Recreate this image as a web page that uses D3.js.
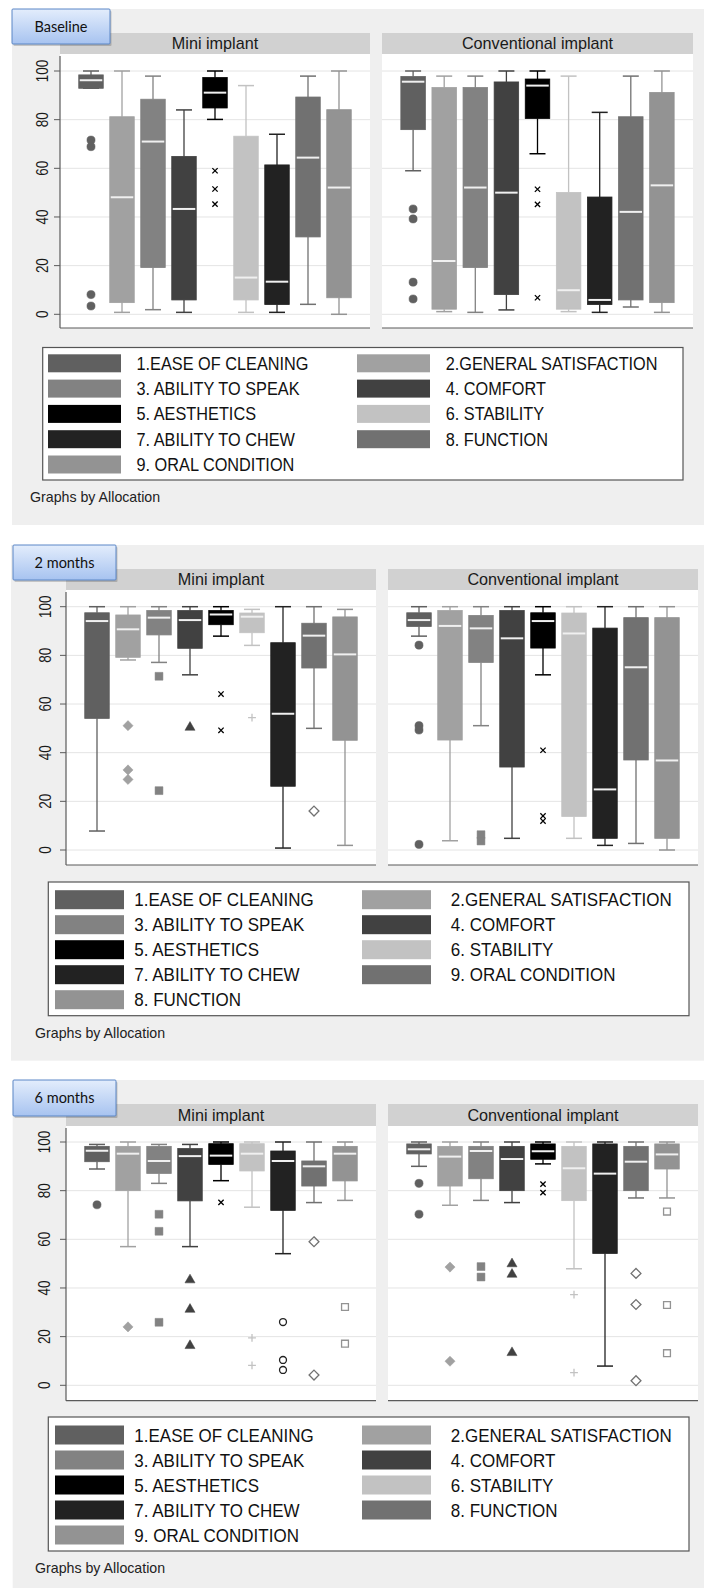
<!DOCTYPE html>
<html><head><meta charset="utf-8">
<script src="https://cdn.jsdelivr.net/npm/d3@7"></script>
<style>body{margin:0;background:#fff} svg{display:block}</style>
</head><body>
<svg id="chart" width="704" height="1588"></svg>
<script>
// ---------------- DATA ----------------
const categories = ["1.EASE OF CLEANING","2.GENERAL SATISFACTION","3. ABILITY TO SPEAK","4. COMFORT",
  "5. AESTHETICS","6. STABILITY","7. ABILITY TO CHEW","8. FUNCTION","9. ORAL CONDITION"];
const groups = ["Mini implant","Conventional implant"];
const timepoints = ["Baseline","2 months","6 months"];
const yTicks = [0,20,40,60,80,100];
const footnote = "Graphs by Allocation";

// box stats per category: [lower whisker, q1, median, q3, upper whisker]
const baselineMini = [[92.9,92.9,96.2,98.4,100],[0.8,4.8,48.1,81.2,100],[1.9,19.2,71,88.4,97.9],[0.8,5.9,43.3,64.9,84],
  [80.1,84.8,91.1,97.3,100],[0.8,5.9,15.1,73.2,94],[0.8,4,13.4,61.4,74],[4.1,31.8,64.4,89.3,97.9],[0,6.8,52.1,84.1,100]];
const baselineMiniOut = [[71.6,68.9,8.1,3.4],[],[],[],[59,51.5,45.3],[],[],[],[]];
const baselineConv = [[59,75.9,95.6,97.7,100],[1.1,2.1,21.9,93.2,97.9],[0.8,19.2,52.1,93.2,97.9],[1.8,8.1,50,95.5,100],
  [66,80.5,94,96.7,100],[1.1,2.1,9.9,50.1,97.9],[0.8,4,5.9,48.2,83],[3,5.9,42.1,81.2,97.9],[0.8,4.8,53,91.2,100]];
const baselineConvOut = [[43.3,39.2,13.2,6.3],[],[],[],[51.4,45.2,6.8],[],[],[],[]];

const twoMonthMini = [[7.8,54.1,94.1,97.5,100],[78.1,79.2,90.7,96.6,100],[77.1,88.4,95.5,98.4,100],[72,82.9,94.5,98.4,100],
  [87.9,92.6,96.8,98.4,100],[84.1,89.3,95.9,97.4,98.9],[0.8,26.2,56,85.2,100],[50,74.8,88.1,93.2,100],[1.9,45.1,80.4,95.8,98.9]];
const twoMonthMiniOut = [[],[51.1,32.9,29],[71.4,24.4],[50.4],[64.1,49.2],[54.4],[],[16],[]];
const twoMonthConv = [[87.9,91.9,94.5,97.5,100],[3.8,45.2,92.1,98.4,100],[51.1,77.1,91.1,96.4,100],[4.8,34.1,87,98.4,100],
  [72,83,94.1,97.5,100],[4.8,13.8,89,97.4,100],[1.9,4.8,24.9,91.2,100],[2.7,37,75.1,95.5,100],[0,4.8,36.8,95.5,100]];
const twoMonthConvOut = [[84.2,51.1,49.3,2.3],[],[6.3,3.7],[],[41,14,11.9],[],[],[],[]];

const sixMonthMini = [[88.9,91.9,96.4,98.2,99],[57,80,95.2,98.2,100],[83,87.1,92.2,98.2,99],[57,75.8,94.2,97.3,99],
  [84.1,90.8,94.4,99.3,100],[73.2,88.1,95.2,99.3,100],[54.1,71.9,92.2,96.3,100],[75.1,81.9,90,92.2,100],[76,84,95.2,98.2,100]];
const sixMonthMiniOut = [[74.2],[24],[70.3,63.3,25.9],[43.3,31.2,16.3],[75.2],[19.5,8.2],[26,10.4,6.3],[59,4.2],[32.2,17.1]];
const sixMonthConv = [[90,95.1,97,99.2,100],[74,81.9,94,98.2,100],[76,84.9,96.3,98.2,100],[75.1,80,93,98.2,100],
  [91,92.9,96.2,99.2,100],[47.9,75.9,89.2,98.2,100],[7.9,54.2,87,99.2,100],[77,80,91.9,98.2,100],[77,88.9,94.9,99.2,100]];
const sixMonthConvOut = [[83,70.3],[48.6,9.9],[48.8,44.5],[49.9,45.6,13.4],[82.7,79.2],[37.3,5.2],[],[46,33.2,1.9],[71.4,33,13.2]];

// legend labels as printed (row-wise, two columns)
const legendBaseline = categories;
const legendTwoMonths = ["1.EASE OF CLEANING","2.GENERAL SATISFACTION","3. ABILITY TO SPEAK","4. COMFORT",
  "5. AESTHETICS","6. STABILITY","7. ABILITY TO CHEW","9. ORAL CONDITION","8. FUNCTION"];
const legendSixMonths = categories;

// ---------------- STYLE / LAYOUT ----------------
const COLORS = ["#606060","#a1a1a1","#828282","#414141","#000000","#c2c2c2","#222222","#717171","#939393"];
const MARKERS = [
  {t:d3.symbolCircle,s:52,fill:true},{t:d3.symbolDiamond2,s:66,fill:true},{t:d3.symbolSquare,s:62,fill:true},
  {t:d3.symbolTriangle,s:44,fill:true},{t:d3.symbolTimes,s:20,fill:false},{t:d3.symbolPlus,s:22,fill:false},
  {t:d3.symbolCircle,s:38,fill:false},{t:d3.symbolDiamond2,s:62,fill:false},{t:d3.symbolSquare2,s:60,fill:false}];

const sets = [
  {stats:[baselineMini,baselineConv], outs:[baselineMiniOut,baselineConvOut], legend:legendBaseline},
  {stats:[twoMonthMini,twoMonthConv], outs:[twoMonthMiniOut,twoMonthConvOut], legend:legendTwoMonths},
  {stats:[sixMonthMini,sixMonthConv], outs:[sixMonthMiniOut,sixMonthConvOut], legend:legendSixMonths}];

const layouts = [
 {top:9,bottom:525,left:12,tag:{x:12,y:9,w:98,h:35},strip:[33,54],plotBottom:328,y100:71,y0:314.3,
  xs:[[60,370],[382,693]],tickLabelX:42,
  legend:{x:42.7,y:347.5,w:640.3,h:132.5,row0:363.3,step:25.3,swx:[48,357],sww:73,swh:18,tx:[136.5,445.7],fs:16.3},
  foot:{x:30,y:497}},
 {top:545,bottom:1060.7,left:11,tag:{x:13,y:545,w:103,h:35},strip:[569,590],plotBottom:865,y100:606.7,y0:850,
  xs:[[66,376],[388,698]],tickLabelX:45,
  legend:{x:48.3,y:882,w:640.7,h:133.7,row0:899.7,step:25,swx:[55,362],sww:69,swh:19,tx:[134.3,450.8],fs:17},
  foot:{x:35,y:1032.7}},
 {top:1080,bottom:1588,left:12.7,tag:{x:13,y:1080,w:103,h:36},strip:[1104,1126],plotBottom:1400.7,y100:1142,y0:1385.3,
  xs:[[66,376],[388,698]],tickLabelX:44.5,
  legend:{x:48.3,y:1417,w:640.7,h:134,row0:1435,step:25,swx:[55,362],sww:69,swh:19,tx:[134.3,450.8],fs:17},
  foot:{x:35,y:1568}}];

const svg = d3.select("#chart");
const defs = svg.append("defs");
const grad = defs.append("linearGradient").attr("id","tagGrad").attr("x1",0).attr("y1",0).attr("x2",0).attr("y2",1);
grad.append("stop").attr("offset","0%").attr("stop-color","#e3edfc");
grad.append("stop").attr("offset","100%").attr("stop-color","#a7c3f0");

const FONT = "'Liberation Sans', Arial, Helvetica, sans-serif";

timepoints.forEach((tp, ti) => {
  const L = layouts[ti], S = sets[ti];
  const G = svg.append("g");
  // graph background
  G.append("rect").attr("x",L.left).attr("y",L.top).attr("width",704-L.left).attr("height",L.bottom-L.top).attr("fill","#efefef");

  const y = d3.scaleLinear().domain([0,100]).range([L.y0, L.y100]);

  groups.forEach((gname, gi) => {
    const [x0,x1] = L.xs[gi];
    const x = d3.scalePoint().domain(d3.range(categories.length)).range([x0,x1]).padding(1);
    const P = G.append("g");
    // strip
    P.append("rect").attr("x",x0).attr("y",L.strip[0]).attr("width",x1-x0).attr("height",L.strip[1]-L.strip[0]).attr("fill","#d1d1d1");
    P.append("text").attr("x",(x0+x1)/2).attr("y",(L.strip[0]+L.strip[1])/2).attr("dy","0.36em")
      .attr("text-anchor","middle").attr("font-family",FONT).attr("font-size",16.2).attr("fill","#1a1a1a").text(gname);
    // plot region
    P.append("rect").attr("x",x0).attr("y",L.strip[1]).attr("width",x1-x0).attr("height",L.plotBottom-L.strip[1]).attr("fill","#fff");
    // gridlines
    P.selectAll("line.grid").data(yTicks).join("line").attr("class","grid")
      .attr("x1",x0).attr("x2",x1).attr("y1",d=>y(d)).attr("y2",d=>y(d)).attr("stroke","#e4e4e4").attr("stroke-width",1);
    // x axis line
    P.append("line").attr("x1",x0).attr("x2",x1).attr("y1",L.plotBottom).attr("y2",L.plotBottom).attr("stroke","#5a5a5a").attr("stroke-width",1.2);
    if (gi === 0) {
      P.append("line").attr("x1",x0).attr("x2",x0).attr("y1",L.strip[1]+2).attr("y2",L.plotBottom).attr("stroke","#5a5a5a").attr("stroke-width",1.2);
      const ax = P.append("g");
      ax.selectAll("line").data(yTicks).join("line").attr("x1",x0-6).attr("x2",x0).attr("y1",d=>y(d)).attr("y2",d=>y(d))
        .attr("stroke","#5a5a5a").attr("stroke-width",1);
      ax.selectAll("text").data(yTicks).join("text")
        .attr("transform",d=>`translate(${L.tickLabelX+5.8},${y(d)}) rotate(-90) scale(0.84,1)`)
        .attr("text-anchor","middle").attr("font-family",FONT).attr("font-size",16).attr("fill","#1a1a1a").text(d=>d);
    }
    // boxes
    const bw = 24.5, cw = 16;
    const stats = S.stats[gi];
    stats.forEach((st, ci) => {
      const [lo,q1,md,q3,hi] = st;
      const cx = x(ci), col = COLORS[ci];
      const B = P.append("g");
      B.append("line").attr("x1",cx).attr("x2",cx).attr("y1",y(hi)).attr("y2",y(q3)).attr("stroke",col).attr("stroke-width",1.3);
      B.append("line").attr("x1",cx).attr("x2",cx).attr("y1",y(q1)).attr("y2",y(lo)).attr("stroke",col).attr("stroke-width",1.3);
      B.append("line").attr("x1",cx-cw/2).attr("x2",cx+cw/2).attr("y1",y(hi)).attr("y2",y(hi)).attr("stroke",col).attr("stroke-width",1.5);
      B.append("line").attr("x1",cx-cw/2).attr("x2",cx+cw/2).attr("y1",y(lo)).attr("y2",y(lo)).attr("stroke",col).attr("stroke-width",1.5);
      B.append("rect").attr("x",cx-bw/2).attr("y",y(q3)).attr("width",bw).attr("height",y(q1)-y(q3))
        .attr("fill",col).attr("stroke",col).attr("stroke-width",0.8);
      B.append("line").attr("x1",cx-bw/2+1).attr("x2",cx+bw/2-1).attr("y1",y(md)).attr("y2",y(md)).attr("stroke","#f0f0f0").attr("stroke-width",2);
      // outliers
      const m = MARKERS[ci];
      const sym = d3.symbol().type(m.t).size(m.s);
      B.selectAll("path.out").data(S.outs[gi][ci]).join("path").attr("class","out")
        .attr("transform",d=>`translate(${cx},${y(d)})`).attr("d",sym())
        .attr("fill",m.fill?col:"none").attr("stroke",col).attr("stroke-width",m.fill?0.5:1.3);
    });
  });

  // legend
  const Lg = L.legend;
  const LG = G.append("g");
  LG.append("rect").attr("x",Lg.x).attr("y",Lg.y).attr("width",Lg.w).attr("height",Lg.h).attr("fill","#fff").attr("stroke","#555").attr("stroke-width",1.2);
  S.legend.forEach((lab, i) => {
    const col = i % 2, row = Math.floor(i/2);
    const ry = Lg.row0 + row*Lg.step;
    LG.append("rect").attr("x",Lg.swx[col]).attr("y",ry-Lg.swh/2).attr("width",Lg.sww).attr("height",Lg.swh).attr("fill",COLORS[i]);
    LG.append("text").attr("transform",`translate(${Lg.tx[col]},${ry}) scale(0.92,1)`).attr("dy","0.36em")
      .attr("font-family",FONT).attr("font-size",Lg.fs*1.087).attr("fill","#111").text(lab);
  });
  // footnote
  G.append("text").attr("x",L.foot.x).attr("y",L.foot.y).attr("dy","0.36em").attr("font-family",FONT)
    .attr("font-size",14.2).attr("fill","#222").text(footnote);

  // time tag
  const T = L.tag;
  G.append("rect").attr("x",T.x+1.5).attr("y",T.y+2).attr("width",T.w).attr("height",T.h).attr("fill","#000").attr("opacity",0.18).attr("rx",1);
  G.append("rect").attr("x",T.x).attr("y",T.y).attr("width",T.w).attr("height",T.h).attr("fill","url(#tagGrad)")
    .attr("stroke","#5b86c6").attr("stroke-width",1).attr("rx",1);
  G.append("text").attr("x",T.x+T.w/2).attr("y",T.y+T.h/2).attr("dy","0.36em").attr("text-anchor","middle")
    .attr("font-family","Lato, 'Open Sans', sans-serif").attr("font-size",14.5).attr("fill","#111").text(tp);
});
</script>
</body></html>
